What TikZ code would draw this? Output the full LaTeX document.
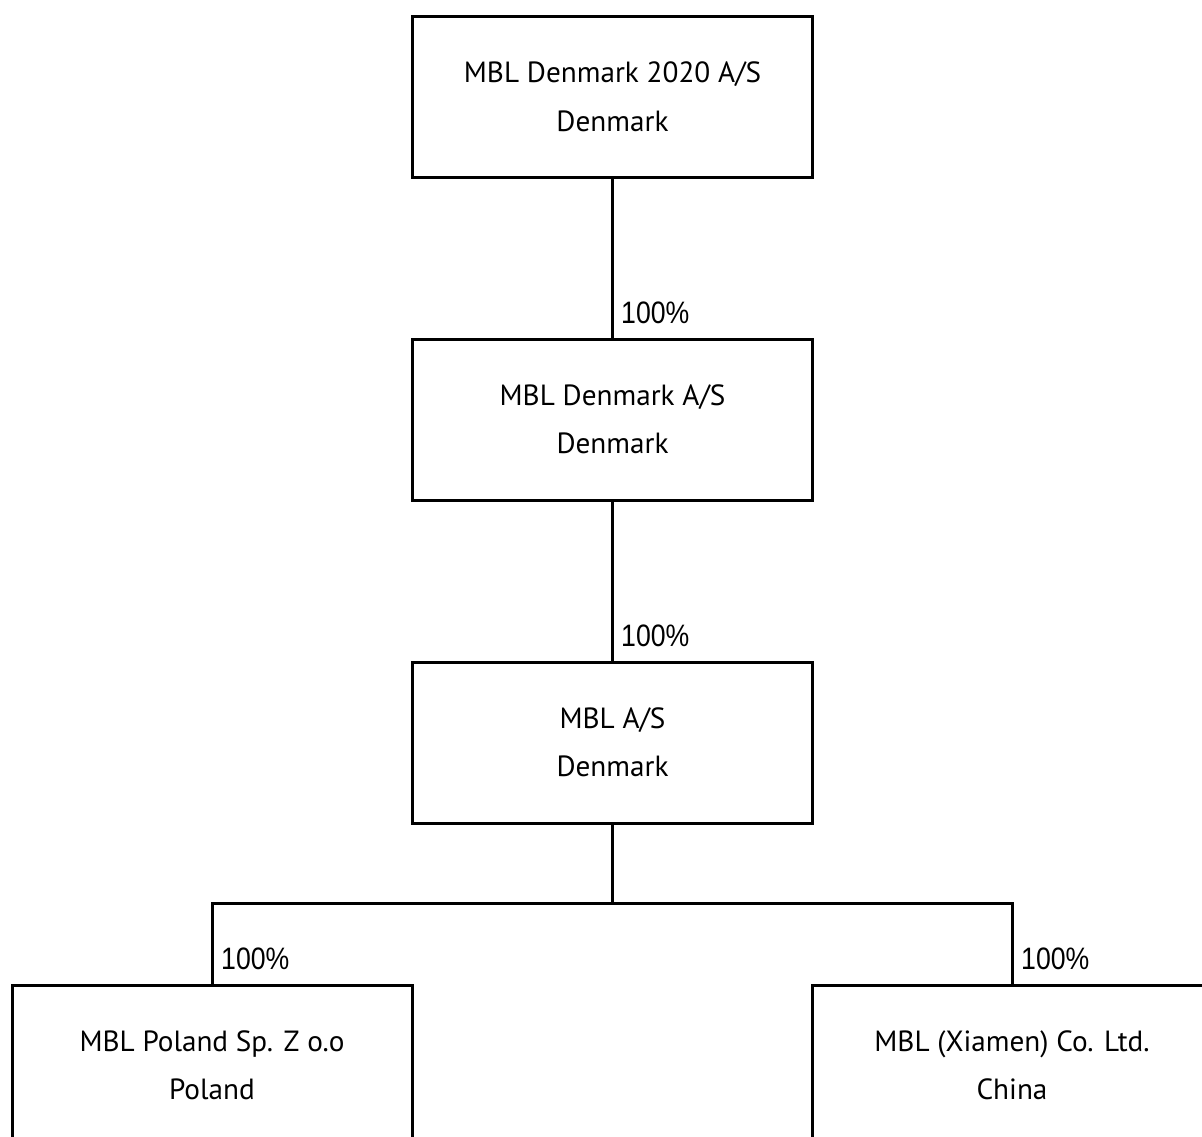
\documentclass[tikz,border=0pt]{standalone}
\usepackage{fontspec}
\newfontfamily\boxfont{PT Sans}
\newfontfamily\pctfont[FakeStretch=0.86]{Liberation Sans}
\begin{document}
\begin{tikzpicture}[x=1pt,y=-1pt,
  entity/.style={draw=black, line width=3pt, fill=white, minimum width=400pt, minimum height=161pt,
    align=center, inner sep=0pt, font=\boxfont\fontsize{29.2}{48.5}\selectfont},
  pct/.style={anchor=base west, inner sep=0pt, font=\pctfont\fontsize{31}{31}\selectfont},
  link/.style={line width=3pt, draw=black}]
\useasboundingbox (0,0) rectangle (1202,1137);
\clip (0,0) rectangle (1202,1137);
\fill[white] (0,0) rectangle (1202,1137);

\node[entity] (top) at (612.5,97) {MBL Denmark 2020 A/S\\Denmark};
\node[entity] (mid) at (612.5,419.5) {MBL Denmark A/S\\Denmark};
\node[entity] (mbl) at (612.5,742.5) {MBL A/S\\Denmark};
\node[entity] (pol) at (212,1065.5) {MBL Poland Sp. Z o.o\\Poland};
\node[entity] (chn) at (1012,1065.5) {MBL (Xiamen) Co. Ltd.\\China};

\coordinate (j) at (612.5,903);
\draw[link] (top.south) -- (mid.north);
\draw[link] (mid.south) -- (mbl.north);
\draw[link] (mbl.south) -- (j);
\draw[link] (pol.north) |- (j) -| (chn.north);

\node[pct] (p1) at (621,323) {100\%};
\node[pct] (p2) at (621,646) {100\%};
\node[pct] (p3) at (221,969) {100\%};
\node[pct] (p4) at (1021,969) {100\%};
\end{tikzpicture}
\end{document}
